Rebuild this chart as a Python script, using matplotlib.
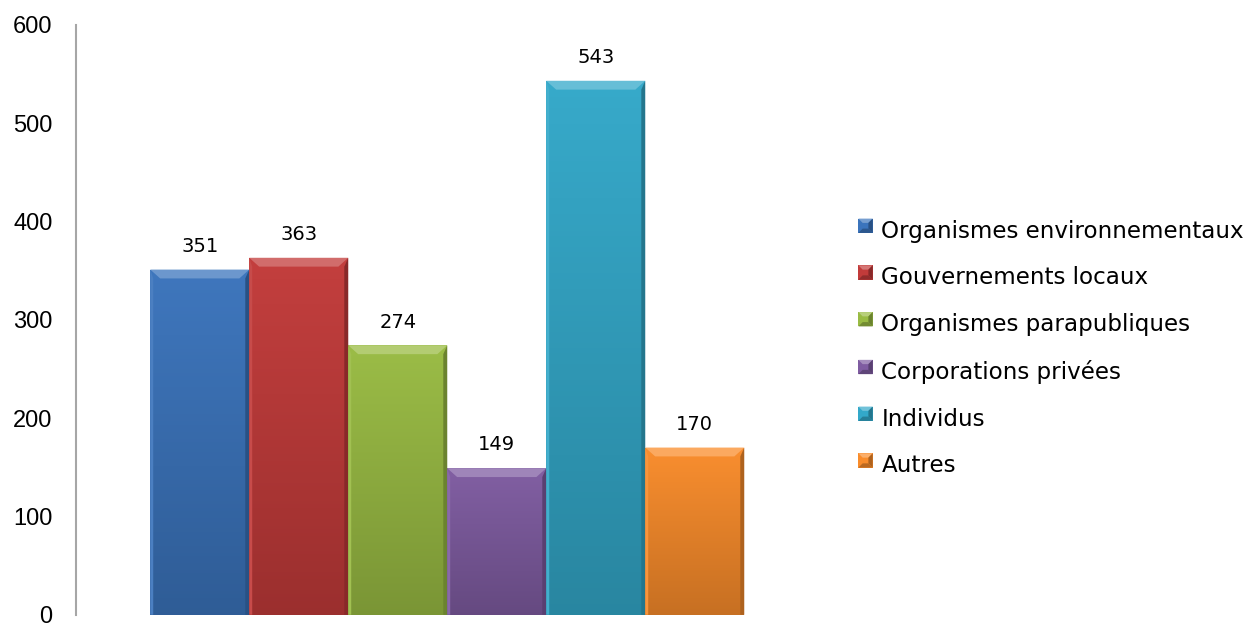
import matplotlib.pyplot as plt
import numpy as np
from matplotlib.colors import to_rgb
from matplotlib.patches import Polygon, Rectangle
from matplotlib.legend_handler import HandlerBase

categories = [
    "Organismes environnementaux",
    "Gouvernements locaux",
    "Organismes parapubliques",
    "Corporations privées",
    "Individus",
    "Autres",
]
values = [351, 363, 274, 149, 543, 170]
colors = ["#3B74BC", "#C23B3A", "#99BB43", "#7F5CA1", "#33A8C9", "#F98C2B"]


def shade(c, f):
    r = np.array(to_rgb(c))
    if f >= 1:
        return tuple(r + (1 - r) * (f - 1))
    return tuple(r * f)


class BevelHandler(HandlerBase):
    def create_artists(self, legend, orig, xd, yd, w, h, fontsize, trans):
        c = orig.get_facecolor()
        s = fontsize * 0.62
        x0 = xd
        y0 = yd + (h - s) / 2 + 0.5
        b = s * 0.3
        arts = [Rectangle((x0, y0), s, s, facecolor=c, edgecolor="none", transform=trans)]
        arts.append(Polygon([(x0, y0 + s), (x0 + s, y0 + s), (x0 + s - b, y0 + s - b), (x0 + b, y0 + s - b)],
                            closed=True, facecolor=shade(c, 1.3), edgecolor="none", transform=trans))
        arts.append(Polygon([(x0 + s, y0), (x0 + s, y0 + s), (x0 + s - b, y0 + s - b), (x0 + s - b, y0 + b)],
                            closed=True, facecolor=shade(c, 0.7), edgecolor="none", transform=trans))
        arts.append(Polygon([(x0, y0), (x0 + s, y0), (x0 + s - b, y0 + b), (x0 + b, y0 + b)],
                            closed=True, facecolor=shade(c, 0.75), edgecolor="none", transform=trans))
        return arts


fig = plt.figure(figsize=(12.5, 6.26), dpi=100)
ax = fig.add_axes([0.0608, 0.018, 0.594, 0.9425])

x = np.arange(len(values))
bars = ax.bar(x, values, width=1.0, color=colors, edgecolor="none", zorder=2)

# gradient + bevel on each bar
bx = 0.1   # bevel width in x units
by = 9.0   # bevel height in y units
grad = np.linspace(0, 1, 100).reshape(-1, 1)
for i, (v, c) in enumerate(zip(values, colors)):
    top = np.array(shade(c, 1.02))
    bot = np.array(shade(c, 0.8))
    img = top + (bot - top) * grad[..., None]
    im = ax.imshow(img, extent=[i - 0.5, i + 0.5, 0, v], origin="upper",
                   aspect="auto", zorder=3)
    im.set_clip_path(bars[i])
    l, r = i - 0.5, i + 0.5
    ax.add_patch(Polygon([(l, v), (r, v), (r - bx, v - by), (l + bx, v - by)],
                         closed=True, facecolor=shade(c, 1.25), edgecolor="none", zorder=4))
    ax.add_patch(Polygon([(r, 0), (r, v), (r - bx * 0.4, v - by), (r - bx * 0.4, 0)],
                         closed=True, facecolor=shade(c, 0.7), edgecolor="none", zorder=4))
    ax.add_patch(Polygon([(l, 0), (l, v), (l + bx * 0.3, v - by), (l + bx * 0.3, 0)],
                         closed=True, facecolor=shade(c, 1.08), edgecolor="none", zorder=4))
    ax.text(i, v + 14, str(v), ha="center", va="bottom", fontsize=14,
            family="DejaVu Sans", color="#000000")

ax.set_xlim(-1.25, 6.25)
ax.set_ylim(0, 600)
ax.set_yticks(range(0, 601, 100))
ax.set_xticks([])
ax.tick_params(axis="y", length=0, pad=17, labelsize=17)
for lab in ax.get_yticklabels():
    lab.set_family("Liberation Sans")
for s in ["top", "right", "bottom"]:
    ax.spines[s].set_visible(False)
ax.spines["left"].set_color("#A6A6A6")
ax.spines["left"].set_linewidth(1.5)

handles = [Rectangle((0, 0), 1, 1, facecolor=c) for c in colors]
leg = fig.legend(handles, categories, loc="center left", bbox_to_anchor=(0.6701, 0.4433),
                 bbox_transform=fig.transFigure, frameon=False,
                 prop={"family": "DejaVu Sans", "size": 16.6},
                 handler_map={Rectangle: BevelHandler()}, handlelength=0.7,
                 handleheight=0.9, handletextpad=0.3, labelspacing=1.03,
                 borderpad=0.4)

fig.savefig("out.png", dpi=100)
